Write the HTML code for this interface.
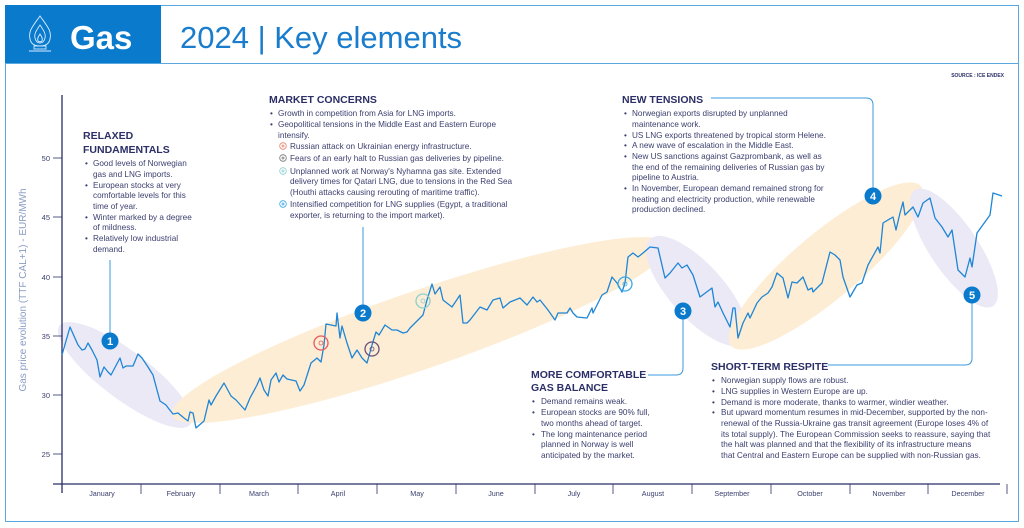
<!DOCTYPE html>
<html><head><meta charset="utf-8"><style>
html,body{margin:0;padding:0;background:#fff;}
svg{display:block;font-family:"Liberation Sans",sans-serif;}
.b{font-size:8.2px;fill:#3b3f6e;}
.h{font-size:10.5px;font-weight:bold;fill:#2b2f66;}
.m{font-size:7.2px;fill:#3b3f6e;}
.t{font-size:7.5px;fill:#3b3f6e;}
</style></head><body>
<svg width="1024" height="528" viewBox="0 0 1024 528">
<rect x="5.5" y="5.5" width="1013" height="516" fill="#fff" stroke="#5aa8e0" stroke-width="1"/>
<line x1="5" y1="63.5" x2="1019" y2="63.5" stroke="#5aa8e0" stroke-width="1"/>
<rect x="5" y="5" width="156" height="58" fill="#0a7acd"/>
<!-- flame icon -->
<g fill="none" stroke="#d8ecff" stroke-width="0.9">
<path d="M40 16 C33 26 28 31 30 39 C31 44 35 46 40 46 C45 46 49 44 50 39 C52 31 47 26 40 16 Z"/>
<path d="M40 25 C36 31 34 34 35 38 C36 42 38 43 40 43 C42 43 44 42 45 38 C46 34 44 31 40 25 Z"/>
<path d="M40 34 C38 37 37 39 38 41 C39 42 41 42 42 41 C43 39 42 37 40 34 Z"/>
<rect x="34" y="46" width="12" height="3"/><line x1="29" y1="51" x2="51" y2="51"/>
</g>
<text x="70" y="49" font-size="33" font-weight="bold" fill="#fff">Gas</text>
<text x="180" y="48" font-size="31" fill="#1a7ccc">2024 | Key elements</text>
<text x="1004" y="77" font-size="5" font-weight="bold" fill="#2b2f66" text-anchor="end">SOURCE : ICE ENDEX</text>

<!-- ellipses -->
<g opacity="0.9">
<ellipse cx="125" cy="375" rx="82" ry="24" transform="rotate(37 125 375)" fill="#e9e7f6"/>
<ellipse cx="420" cy="330" rx="262" ry="39" transform="rotate(-19 420 330)" fill="#fdecd0"/>
<ellipse cx="697" cy="291" rx="70" ry="27" transform="rotate(48 697 291)" fill="#e9e7f6"/>
<ellipse cx="826" cy="266" rx="124" ry="33" transform="rotate(-40 826 266)" fill="#fdecd0"/>
<ellipse cx="954" cy="248" rx="70" ry="24" transform="rotate(56 954 248)" fill="#e9e7f6"/>
</g>

<!-- axes -->
<line x1="62" y1="95" x2="62" y2="493" stroke="#2b2f66" stroke-width="1.3"/>
<line x1="53" y1="484" x2="1000" y2="484" stroke="#2b2f66" stroke-width="1.3"/>
<g stroke="#2b2f66" stroke-width="0.8">
<line x1="53" y1="158" x2="62" y2="158"/><line x1="53" y1="217" x2="62" y2="217"/><line x1="53" y1="277" x2="62" y2="277"/>
<line x1="53" y1="336" x2="62" y2="336"/><line x1="53" y1="395" x2="62" y2="395"/><line x1="53" y1="454" x2="62" y2="454"/>
<line x1="141" y1="484" x2="141" y2="494"/><line x1="220" y1="484" x2="220" y2="494"/><line x1="298" y1="484" x2="298" y2="494"/>
<line x1="377" y1="484" x2="377" y2="494"/><line x1="456" y1="484" x2="456" y2="494"/><line x1="535" y1="484" x2="535" y2="494"/>
<line x1="613" y1="484" x2="613" y2="494"/><line x1="692" y1="484" x2="692" y2="494"/><line x1="771" y1="484" x2="771" y2="494"/>
<line x1="850" y1="484" x2="850" y2="494"/><line x1="928" y1="484" x2="928" y2="494"/><line x1="1007" y1="484" x2="1007" y2="494"/>
</g>
<g class="t" text-anchor="end">
<text x="50" y="161">50</text><text x="50" y="220">45</text><text x="50" y="280">40</text>
<text x="50" y="339">35</text><text x="50" y="398">30</text><text x="50" y="457">25</text>
</g>
<g class="m" text-anchor="middle">
<text x="102" y="496">January</text><text x="181" y="496">February</text><text x="259" y="496">March</text>
<text x="338" y="496">April</text><text x="417" y="496">May</text><text x="496" y="496">June</text>
<text x="574" y="496">July</text><text x="653" y="496">August</text><text x="732" y="496">September</text>
<text x="810" y="496">October</text><text x="889" y="496">November</text><text x="968" y="496">December</text>
</g>
<text transform="translate(26 290) rotate(-90)" font-size="10" fill="#8a9cc4" text-anchor="middle">Gas price evolution (TTF CAL+1) - EUR/MWh</text>

<!-- price line -->
<polyline fill="none" stroke="#1f86d6" stroke-width="1.3" stroke-linejoin="round" points="62,355 70,327 78,345 82,350 85,349 88,343 92,350 97,360 100,377 104,367 108,372 111,375 120,358 123,368 126,366 133,366 138,354 142,358 148,367 153,375 157,390 160,401 166,405 169,409 173,414 178,413 184,418 188,421 190,412 193,413 196,428 204,421 209,400 211,405 216,396 224,383 231,396 236,400 245,410 250,398 257,385 260,378 264,390 268,396 271,380 276,373 279,382 283,375 287,379 296,381 300,391 304,385 311,363 317,358 321,362 324,345 326,324 331,325 336,326 337,313 340,338 342,326 347,343 352,358 357,350 362,358 367,363 372,345 376,332 379,335 385,325 392,330 397,330 403,333 407,332 410,328 416,322 423,315 427,300 432,284 435,294 440,287 443,300 452,307 460,295 463,323 467,323 470,320 480,307 487,310 493,300 500,298 503,308 510,302 520,298 527,305 533,297 537,302 540,300 548,310 555,320 558,313 567,313 570,308 573,313 577,317 587,318 592,308 593,313 602,295 607,292 612,277 617,283 622,292 625,283 628,257 633,253 638,257 643,253 650,247 658,248 665,278 670,273 678,263 682,268 687,265 693,275 700,297 712,288 715,307 718,302 723,313 730,327 733,308 735,308 738,338 743,323 748,313 750,318 757,303 762,297 768,293 772,287 777,273 783,278 788,298 792,282 797,283 803,277 808,290 812,288 813,292 822,283 830,252 835,255 840,260 843,277 850,297 857,285 862,283 868,265 878,247 880,253 883,223 893,217 896,230 900,213 903,202 905,215 913,207 918,217 923,203 930,198 935,218 942,227 948,237 952,230 958,270 965,277 970,258 972,267 977,233 990,215 993,193 1002,196"/>

<!-- small event circles -->
<g fill="none" stroke-width="1.3">
<circle cx="321" cy="343" r="7" stroke="#e8595a"/><circle cx="321" cy="343" r="2" stroke="#e8595a" stroke-width="0.8"/>
<circle cx="372" cy="349" r="7" stroke="#6b4f7a"/><circle cx="372" cy="349" r="2" stroke="#6b4f7a" stroke-width="0.8"/>
<circle cx="423" cy="301" r="7" stroke="#8ccfd0"/><circle cx="423" cy="301" r="2" stroke="#8ccfd0" stroke-width="0.8"/>
<circle cx="625" cy="284" r="7" stroke="#39a9e8"/><circle cx="625" cy="284" r="2" stroke="#39a9e8" stroke-width="0.8"/>
</g>

<!-- callout lines -->
<g fill="none" stroke="#3a98dc" stroke-width="1">
<line x1="110" y1="260" x2="110" y2="340"/>
<line x1="363" y1="227" x2="363" y2="312"/>
<path d="M683 311 V368 Q683 375 676 375 H648"/>
<path d="M873 196 V105 Q873 98 866 98 H711"/>
<path d="M972 295 V358 Q972 365 965 365 H828"/>
</g>
<g font-size="11" font-weight="bold" fill="#fff" text-anchor="middle">
<circle cx="110" cy="341" r="8.5" fill="#0a7acd"/><text x="110" y="345">1</text>
<circle cx="363" cy="313" r="8.5" fill="#0a7acd"/><text x="363" y="317">2</text>
<circle cx="683" cy="311" r="8.5" fill="#0a7acd"/><text x="683" y="315">3</text>
<circle cx="873" cy="196" r="8.5" fill="#0a7acd"/><text x="873" y="200">4</text>
<circle cx="972" cy="295" r="8.5" fill="#0a7acd"/><text x="972" y="299">5</text>
</g>

<!-- RELAXED FUNDAMENTALS -->
<text class="h" x="83" y="139">RELAXED</text>
<text class="h" x="83" y="153">FUNDAMENTALS</text>
<g class="b">
<text x="85" y="166">•</text><text x="93" y="166">Good levels of Norwegian</text>
<text x="93" y="177">gas and LNG imports.</text>
<text x="85" y="188">•</text><text x="93" y="188">European stocks at very</text>
<text x="93" y="198">comfortable levels for this</text>
<text x="93" y="209">time of year.</text>
<text x="85" y="220">•</text><text x="93" y="220">Winter marked by a degree</text>
<text x="93" y="230">of mildness.</text>
<text x="85" y="241">•</text><text x="93" y="241">Relatively low industrial</text>
<text x="93" y="252">demand.</text>
</g>

<!-- MARKET CONCERNS -->
<text class="h" x="269" y="103">MARKET CONCERNS</text>
<g class="b">
<text x="270" y="116">•</text><text x="278" y="116">Growth in competition from Asia for LNG imports.</text>
<text x="270" y="127">•</text><text x="278" y="127">Geopolitical tensions in the Middle East and Eastern Europe</text>
<text x="278" y="138">intensify.</text>
<text x="290" y="149">Russian attack on Ukrainian energy infrastructure.</text>
<text x="290" y="161">Fears of an early halt to Russian gas deliveries by pipeline.</text>
<text x="290" y="174">Unplanned work at Norway's Nyhamna gas site. Extended</text>
<text x="290" y="184">delivery times for Qatari LNG, due to tensions in the Red Sea</text>
<text x="290" y="195">(Houthi attacks causing rerouting of maritime traffic).</text>
<text x="290" y="207">Intensified competition for LNG supplies (Egypt, a traditional</text>
<text x="290" y="218">exporter, is returning to the import market).</text>
</g>
<g fill="none" stroke-width="0.8">
<circle cx="283" cy="146" r="3.3" stroke="#e8806a"/><circle cx="283" cy="146" r="1" stroke="#e8806a"/>
<circle cx="283" cy="158" r="3.3" stroke="#777"/><circle cx="283" cy="158" r="1" stroke="#777"/>
<circle cx="283" cy="171" r="3.3" stroke="#8ccfd0"/><circle cx="283" cy="171" r="1" stroke="#8ccfd0"/>
<circle cx="283" cy="204" r="3.3" stroke="#39a9e8"/><circle cx="283" cy="204" r="1" stroke="#39a9e8"/>
</g>

<!-- NEW TENSIONS -->
<text class="h" x="622" y="103">NEW TENSIONS</text>
<g class="b">
<text x="624" y="116">•</text><text x="632" y="116">Norwegian exports disrupted by unplanned</text>
<text x="632" y="127">maintenance work.</text>
<text x="624" y="138">•</text><text x="632" y="138">US LNG exports threatened by tropical storm Helene.</text>
<text x="624" y="148">•</text><text x="632" y="148">A new wave of escalation in the Middle East.</text>
<text x="624" y="159">•</text><text x="632" y="159">New US sanctions against Gazprombank, as well as</text>
<text x="632" y="170">the end of the remaining deliveries of Russian gas by</text>
<text x="632" y="180">pipeline to Austria.</text>
<text x="624" y="191">•</text><text x="632" y="191">In November, European demand remained strong for</text>
<text x="632" y="202">heating and electricity production, while renewable</text>
<text x="632" y="212">production declined.</text>
</g>

<!-- MORE COMFORTABLE -->
<text class="h" x="531" y="378">MORE COMFORTABLE</text>
<text class="h" x="531" y="391">GAS BALANCE</text>
<g class="b">
<text x="532" y="404">•</text><text x="541" y="404">Demand remains weak.</text>
<text x="532" y="415">•</text><text x="541" y="415">European stocks are 90% full,</text>
<text x="541" y="426">two months ahead of target.</text>
<text x="532" y="437">•</text><text x="541" y="437">The long maintenance period</text>
<text x="541" y="447">planned in Norway is well</text>
<text x="541" y="458">anticipated by the market.</text>
</g>

<!-- SHORT-TERM RESPITE -->
<text class="h" x="711" y="370">SHORT-TERM RESPITE</text>
<g class="b">
<text x="712" y="383">•</text><text x="721" y="383">Norwegian supply flows are robust.</text>
<text x="712" y="394">•</text><text x="721" y="394">LNG supplies in Western Europe are up.</text>
<text x="712" y="405">•</text><text x="721" y="405">Demand is more moderate, thanks to warmer, windier weather.</text>
<text x="712" y="415">•</text><text x="721" y="415">But upward momentum resumes in mid-December, supported by the non-</text>
<text x="721" y="426">renewal of the Russia-Ukraine gas transit agreement (Europe loses 4% of</text>
<text x="721" y="437">its total supply). The European Commission seeks to reassure, saying that</text>
<text x="721" y="447">the halt was planned and that the flexibility of its infrastructure means</text>
<text x="721" y="458">that Central and Eastern Europe can be supplied with non-Russian gas.</text>
</g>
</svg>
</body></html>
